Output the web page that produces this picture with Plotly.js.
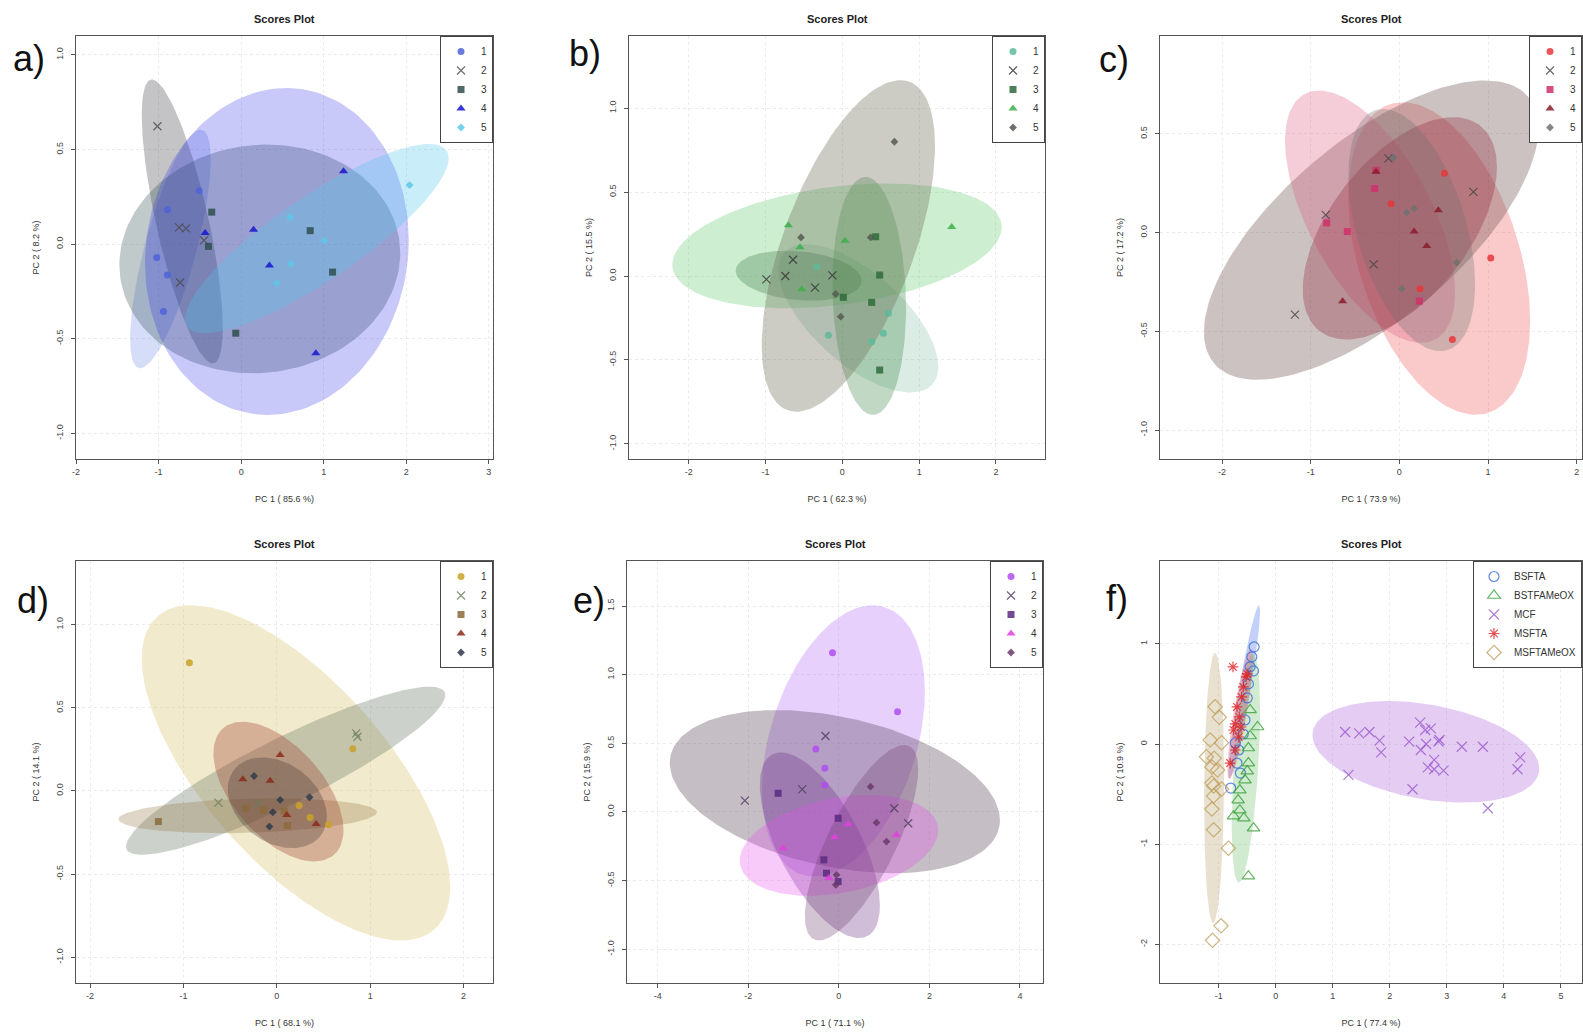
<!DOCTYPE html>
<html><head><meta charset="utf-8">
<script src="https://cdn.plot.ly/plotly-3.0.1.min.js"></script>
<style>html,body{margin:0;padding:0;background:#fff;}#chart{width:1583px;height:1034px;}</style>
</head><body><div id="chart"></div>
<script>
// ---------- DATA ----------
const groupsNum = ['1','2','3','4','5'];
const groupsF = ['BSFTA','BSTFAMeOX','MCF','MSFTA','MSFTAMeOX'];

// Panel a
const aPC1 = [[-0.509,-0.893,-1.022,-0.893,-0.941],[-1.014,-0.752,-0.667,-0.739,-0.45],[-0.356,-0.396,0.836,1.107,-0.065],[1.24,0.15,-0.436,0.343,0.905],[2.04,0.594,1.006,0.602,0.432]];
const aPC2 = [[0.282,0.182,-0.071,-0.164,-0.356],[0.623,0.088,0.083,-0.203,0.02],[0.169,-0.012,0.071,-0.148,-0.471],[0.385,0.076,0.058,-0.113,-0.577],[0.312,0.141,0.018,-0.104,-0.206]];
// ellipse extents: [xmin, xmax, ymin, ymax, correlation]
const aEll = [[-1.345,-0.368,-0.656,0.605,0.75],[-1.204,-0.222,-0.63,0.87,-0.75],[-1.475,1.927,-0.683,0.526,0.05],[-1.164,2.03,-0.903,0.825,0.07],[-0.679,2.513,-0.471,0.529,0.85]];

// Panel b
const bPC1 = [[-0.334,-0.182,0.6,0.534,0.382],[-0.99,-0.743,-0.643,-0.356,-0.13],[0.434,0.486,0.013,0.382,0.486],[-0.704,-0.552,0.035,-0.53,1.425],[0.678,-0.539,0.369,-0.087,-0.022]];
const bPC2 = [[0.056,-0.353,-0.222,-0.341,-0.391],[-0.02,0,0.097,-0.069,0.004],[0.234,0.006,-0.127,-0.157,-0.56],[0.302,0.171,0.21,-0.079,0.292],[0.8,0.23,0.23,-0.107,-0.242]];
const bEll = [[-0.834,1.25,-0.694,0.19,-0.65],[-1.39,0.252,-0.147,0.151,-0.2],[-0.13,0.83,-0.827,0.591,-0.1],[-2.215,2.076,-0.192,0.552,0.3],[-1.051,1.207,-0.808,1.167,0.6]];

// Panel c
const cPC1 = [[0.508,-0.094,0.233,0.598,1.031],[-0.124,-0.831,-0.29,-1.178,0.835],[-0.263,-0.278,-0.82,-0.587,0.226],[-0.263,0.166,0.308,0.44,-0.64],[0.083,0.166,0.647,0.026,-0.068]];
const cPC2 = [[0.3,0.146,-0.284,-0.541,-0.129],[0.376,0.09,-0.161,-0.415,0.206],[0.315,0.223,0.049,0.005,-0.347],[0.308,0.005,-0.068,0.113,-0.347],[0.102,0.122,-0.152,-0.284,0.38]];
const cEll = [[-0.576,1.475,-0.922,0.66,-0.4],[-2.205,1.569,-0.745,0.77,0.68],[-1.29,0.628,-0.558,0.719,-0.6],[-1.09,1.1,-0.541,0.584,0.55],[-0.576,0.854,-0.6,0.626,-0.45]];

// Panel d
const dPC1 = [[-0.936,0.814,0.239,0.357,0.554],[0.85,0.864,-0.625,-0.196],[-1.268,-0.332,-0.143,0.114,0.079],[0.036,-0.364,-0.071,0.107,0.421],[-0.243,0.036,-0.043,-0.079,0.35]];
const dPC2 = [[0.771,0.254,-0.088,-0.16,-0.204],[0.346,0.326,-0.07,-0.074],[-0.184,-0.104,-0.118,-0.208,-0.12],[0.216,0.07,0.062,-0.144,-0.198],[0.09,-0.054,-0.128,-0.214,-0.038]];
const dEll = [[-1.446,1.857,-0.899,1.117,-0.68],[-1.614,1.804,-0.384,0.627,0.9],[-1.696,1.071,-0.254,-0.044,0.2],[-0.679,0.714,-0.424,0.416,-0.55],[-0.525,0.536,-0.344,0.202,-0.3]];

// Panel e
const ePC1 = [[-0.14,1.297,-0.508,-0.309,-0.309],[-0.295,-0.81,-2.077,1.223,1.532],[-1.341,-0.015,-0.331,-0.273,-0.015],[-1.23,-0.088,0.206,1.274,-0.221],[0.7,0.832,1.053,-0.052,-0.066]];
const ePC2 = [[1.159,0.73,0.458,0.318,0.196],[0.553,0.165,0.082,0.027,-0.082],[0.136,-0.046,-0.349,-0.446,-0.507],[-0.264,-0.184,-0.09,-0.167,-0.482],[0.184,-0.078,-0.216,-0.458,-0.531]];
const eEll = [[-1.7,1.9,-0.47,1.505,0.36],[-3.735,3.558,-0.446,0.742,-0.35],[-1.746,0.906,-0.919,0.434,-0.65],[-2.188,2.195,-0.611,0.124,0.3],[-0.751,1.753,-0.936,0.487,0.75]];

// Panel f
const fPC1 = [
  [-0.38,-0.42,-0.45,-0.39,-0.48,-0.5,-0.54,-0.57,-0.71,-0.65,-0.68,-0.62,-0.79],
  [-0.32,-0.45,-0.45,-0.48,-0.48,-0.5,-0.54,-0.63,-0.66,-0.63,-0.74,-0.56,-0.39,-0.48],
  [1.216,1.462,1.643,1.819,1.848,1.275,2.339,2.532,2.62,2.719,2.637,2.544,2.871,2.854,2.778,2.667,2.778,2.942,3.263,3.632,4.287,4.24,2.398,3.719],
  [-0.75,-0.5,-0.52,-0.57,-0.6,-0.68,-0.64,-0.61,-0.71,-0.74,-0.65,-0.71,-0.8],
  [-1.065,-0.99,-1.15,-0.95,-1.216,-1.08,-1.12,-1.02,-1.12,-1.09,-0.95,-1.09,-1.12,-1.09,-0.83,-0.96,-1.11]
];
const fPC2 = [
  [0.97,0.87,0.77,0.73,0.6,0.46,0.24,0.1,0.01,-0.06,-0.19,-0.29,-0.44],
  [0.17,0.34,0.08,-0.04,-0.19,-0.27,-0.36,-0.46,-0.56,-0.66,-0.72,-0.74,-0.84,-1.32],
  [0.12,0.106,0.12,0.033,-0.083,-0.309,0.023,0.213,0.14,0.156,0,-0.06,0.04,0.023,-0.159,-0.233,-0.252,-0.266,-0.027,-0.027,-0.133,-0.252,-0.452,-0.641],
  [0.77,0.7,0.67,0.57,0.47,0.37,0.27,0.17,0.2,0.14,0.07,-0.06,-0.19],
  [0.372,0.266,0.04,0.013,-0.127,-0.143,-0.23,-0.26,-0.39,-0.42,-0.45,-0.52,-0.65,-0.857,-1.04,-1.815,-1.96]
];
const fEll = [[-0.83,-0.275,-0.342,1.385,0.93],[-0.772,-0.275,-1.382,0.9,0.5],[0.643,4.62,-0.585,0.429,-0.33],[-0.85,-0.4,-0.35,0.95,0.85],[-1.257,-0.906,-1.787,0.91,0.1]];

// Tick labels
const ticksX = {a:[-2,-1,0,1,2,3], b:[-2,-1,0,1,2], c:[-2,-1,0,1,2], d:[-2,-1,0,1,2], e:[-4,-2,0,2,4], f:[-1,0,1,2,3,4,5]};
const ticksY = {a:[-1,-0.5,0,0.5,1], b:[-1,-0.5,0,0.5,1], c:[-1,-0.5,0,0.5], d:[-1,-0.5,0,0.5,1], e:[-1,-0.5,0,0.5,1,1.5], f:[-2,-1,0,1]};
const xTitles = {a:'PC 1 ( 85.6 %)', b:'PC 1 ( 62.3 %)', c:'PC 1 ( 73.9 %)', d:'PC 1 ( 68.1 %)', e:'PC 1 ( 71.1 %)', f:'PC 1 ( 77.4 %)'};
const yTitles = {a:'PC 2 ( 8.2 %)', b:'PC 2 ( 15.5 %)', c:'PC 2 ( 17.2 %)', d:'PC 2 ( 14.1 %)', e:'PC 2 ( 15.9 %)', f:'PC 2 ( 10.9 %)'};

// ---------- STYLE ----------
const W = 1583, H = 1034;
const symNum = ['circle','x-thin-open','square','triangle-up','diamond'];
const sizeNum = [7,8,7,8,6];
const symF = ['circle-open','triangle-up-open','x-thin-open','asterisk-open','diamond-open'];
const sizeF = [10,11,10,9,11];

const panels = [
  {k:'a', px:aPC1, py:aPC2, ell:aEll, names:groupsNum, sym:symNum, size:sizeNum,
   box:[76,493,36,459], xr:[-2.0,3.05], yr:[-1.136,1.10], yfmt:1,
   colors:['#4f63d8','#4a4a4a','#2f4f4f','#1515d0','#5cc8e8'],
   fills:['rgba(90,120,230,0.25)','rgba(70,70,80,0.32)','rgba(47,79,79,0.30)','rgba(40,40,230,0.25)','rgba(80,200,235,0.30)'],
   label:[29,58]},
  {k:'b', px:bPC1, py:bPC2, ell:bEll, names:groupsNum, sym:symNum, size:sizeNum,
   box:[629,1045,36,459], xr:[-2.78,2.64], yr:[-1.09,1.43], yfmt:1,
   colors:['#5fb89a','#333333','#2e6b3a','#3cb04a','#555b50'],
   fills:['rgba(110,180,150,0.25)','rgba(40,80,50,0.30)','rgba(50,130,60,0.30)','rgba(90,200,100,0.30)','rgba(110,110,90,0.35)'],
   label:[585,54]},
  {k:'c', px:cPC1, py:cPC2, ell:cEll, names:groupsNum, sym:symNum, size:sizeNum,
   box:[1160,1582,36,459], xr:[-2.70,2.06], yr:[-1.146,0.995], yfmt:1,
   colors:['#e8363a','#444444','#d0306a','#8b1c2c','#707070'],
   fills:['rgba(240,80,80,0.30)','rgba(110,80,80,0.35)','rgba(220,90,130,0.30)','rgba(140,30,50,0.30)','rgba(110,110,110,0.30)'],
   label:[1114,59]},
  {k:'d', px:dPC1, py:dPC2, ell:dEll, names:groupsNum, sym:symNum, size:sizeNum,
   box:[76,493,561,983], xr:[-2.15,2.315], yr:[-1.155,1.383], yfmt:1,
   colors:['#c9a227','#6b7d5c','#8c6a3c','#8b2a1a','#2f3a4a'],
   fills:['rgba(215,195,110,0.35)','rgba(110,125,105,0.35)','rgba(150,120,70,0.30)','rgba(160,70,50,0.35)','rgba(60,50,50,0.30)'],
   label:[33,600]},
  {k:'e', px:ePC1, py:ePC2, ell:eEll, names:groupsNum, sym:symNum, size:sizeNum,
   box:[627,1043,561,983], xr:[-4.68,4.51], yr:[-1.246,1.828], yfmt:1,
   colors:['#b04ef0','#4a3a5a','#5a2a80','#e040e0','#6a3a6a'],
   fills:['rgba(180,100,250,0.30)','rgba(90,70,90,0.35)','rgba(100,40,130,0.30)','rgba(230,80,240,0.30)','rgba(110,60,110,0.30)'],
   label:[589,600]},
  {k:'f', px:fPC1, py:fPC2, ell:fEll, names:groupsF, sym:symF, size:sizeF,
   box:[1160,1582,561,983], xr:[-2.03,5.37], yr:[-2.386,1.827], yfmt:0,
   colors:['#3a6ad8','#3aa03a','#9a5ad0','#e02020','#c0a060'],
   fills:['rgba(80,120,240,0.35)','rgba(100,190,100,0.30)','rgba(180,110,220,0.35)','rgba(240,80,80,0.30)','rgba(190,170,120,0.35)'],
   label:[1117,598]}
];

function ellipse(e) {
  const [x0,x1,y0,y1,rho] = e;
  const cx=(x0+x1)/2, a=(x1-x0)/2, cy=(y0+y1)/2, b=(y1-y0)/2, d=Math.acos(rho);
  const xs=[], ys=[];
  for (let i=0;i<=160;i++){ const t=2*Math.PI*i/160; xs.push(cx+a*Math.cos(t)); ys.push(cy+b*Math.cos(t-d)); }
  return [xs,ys];
}

const traces = [];
const layout = {
  width:W, height:H, margin:{l:0,r:0,t:0,b:0},
  paper_bgcolor:'#fff', plot_bgcolor:'#fff', showlegend:true,
  font:{family:'Liberation Sans, Arial, sans-serif', color:'#333'},
  annotations:[]
};

panels.forEach((p,i)=>{
  const n = i+1;
  const xa = n===1?'x':'x'+n, ya = n===1?'y':'y'+n;
  const xk = n===1?'xaxis':'xaxis'+n, yk = n===1?'yaxis':'yaxis'+n;
  const lg = n===1?'legend':'legend'+n;
  const [L,R,T,B] = p.box;
  p.ell.forEach((e,g)=>{
    const [xs,ys] = ellipse(e);
    traces.push({type:'scatter', mode:'lines', x:xs, y:ys, xaxis:xa, yaxis:ya, fill:'toself',
      fillcolor:p.fills[g], line:{width:0, color:'rgba(0,0,0,0)'}, showlegend:false, hoverinfo:'skip'});
  });
  p.px.forEach((xs,g)=>{
    const sym = p.sym[g];
    const open = sym.indexOf('open')>=0;
    const marker = {symbol:sym, size:p.size[g], color:p.colors[g], opacity: open?0.8:0.85,
      line:{color:p.colors[g], width: open?1.2:0}};
    traces.push({type:'scatter', mode:'markers', name:p.names[g], x:xs, y:p.py[g], xaxis:xa, yaxis:ya,
      marker:marker, legend:lg});
  });
  const tx = ticksX[p.k], ty = ticksY[p.k];
  const common = {showline:true, mirror:true, linecolor:'#555', linewidth:1, ticks:'outside', ticklen:4,
    tickcolor:'#555', showgrid:true, gridcolor:'#ebebeb', griddash:'dot', zeroline:false,
    tickfont:{size:9, color:'#444'}};
  layout[xk] = Object.assign({}, common, {domain:[L/W, R/W], range:p.xr, anchor:ya,
    tickmode:'array', tickvals:tx, ticktext:tx.map(v=>String(v)),
    title:{text:xTitles[p.k], font:{size:9,color:'#333'}, standoff:19}});
  layout[yk] = Object.assign({}, common, {domain:[1-B/H, 1-T/H], range:p.yr, anchor:xa,
    tickmode:'array', tickvals:ty, ticktext:ty.map(v=>v.toFixed(p.yfmt)), tickangle:-90, ticklabelstandoff:4,
    title:{text:yTitles[p.k], font:{size:9,color:'#333'}, standoff:14}});
  layout[lg] = {x:R/W, y:1-T/H, xanchor:'right', yanchor:'top', bgcolor:'#fff', bordercolor:'#444',
    borderwidth:1, font:{size:10, color:'#333'}, tracegroupgap:0, itemwidth:30, itemclick:false};
  layout.annotations.push({xref:'paper', yref:'paper', x:(L+R)/2/W, y:1-(T-17)/H, text:'<b>Scores Plot</b>',
    showarrow:false, font:{size:11, color:'#222'}, xanchor:'center', yanchor:'middle'});
  layout.annotations.push({xref:'paper', yref:'paper', x:p.label[0]/W, y:1-p.label[1]/H, text:p.k+')',
    showarrow:false, font:{size:36, color:'#111', family:'Liberation Sans, Arial, sans-serif'}, xanchor:'center', yanchor:'middle'});
});

Plotly.newPlot('chart', traces, layout, {staticPlot:true});
</script></body></html>
